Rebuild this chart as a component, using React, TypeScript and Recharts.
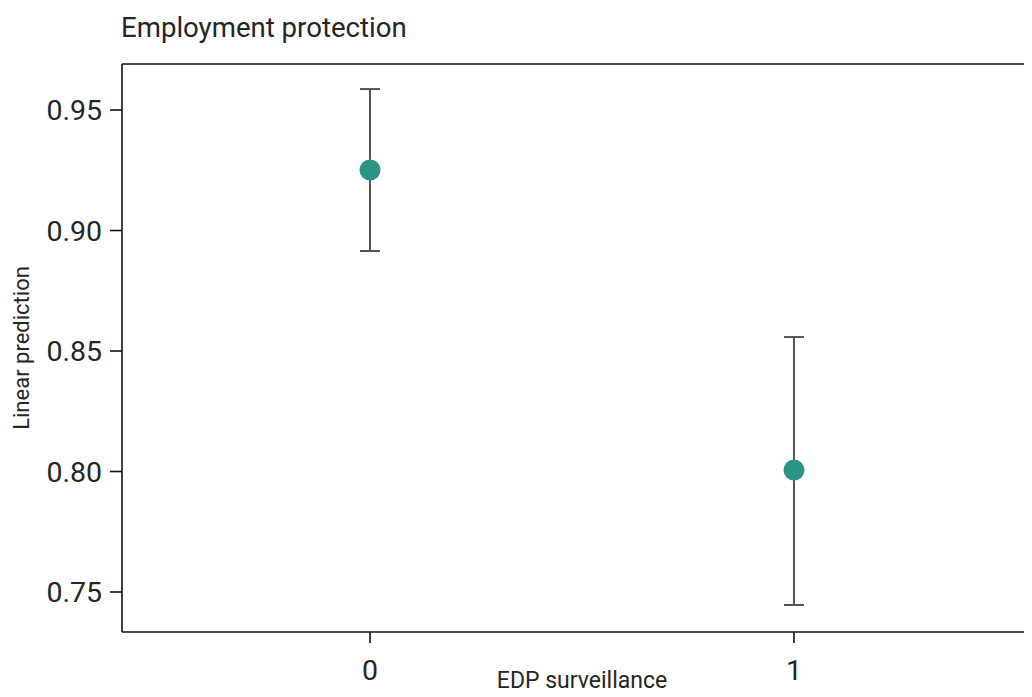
import React from "react";
import { ScatterChart, Scatter, XAxis, YAxis, ErrorBar } from "recharts";

// EDP surveillance groups and the linear predictions with their 95% CI
const groups = [0, 1];
const predictions = [0.9251, 0.8006];
const ciLower = [0.8915, 0.7446];
const ciUpper = [0.9587, 0.8558];
const yTicks = [0.75, 0.8, 0.85, 0.9, 0.95];

const data = groups.map((g, i) => ({
    group: g,
    value: predictions[i],
    ci: [predictions[i] - ciLower[i], ciUpper[i] - predictions[i]],
}));

const X_DOMAIN = [-0.585, 1.585];
const FONT = "Roboto, 'DejaVu Sans', sans-serif";
const TEXT = "#262626";
const AXIS = "#111111";

export default function App() {
    return (
        <div style={{ position: "relative", width: 1060, height: 689, overflow: "hidden", fontFamily: FONT }}>
            {/* the plot frame runs past the right edge, keep the page from scrolling */}
            <style>{"html, body { overflow: hidden; }"}</style>
            <div style={{ position: "absolute", left: 113, top: 3, fontSize: 27.6, color: TEXT, whiteSpace: "nowrap" }}>
                Employment protection
            </div>
            <ScatterChart width={1040} height={704} margin={{ top: 55, right: 6, bottom: 0, left: 0 }}>
                <XAxis
                    type="number"
                    dataKey="group"
                    domain={X_DOMAIN}
                    ticks={groups}
                    allowDataOverflow
                    tickSize={11}
                    tickMargin={17}
                    height={80}
                    stroke={AXIS}
                    strokeWidth={1.6}
                    tick={{ fill: TEXT, fontSize: 28.5, fontFamily: FONT }}
                    label={{ value: "EDP surveillance", position: "insideBottom", offset: 24, fill: TEXT, fontSize: 23, fontFamily: FONT }}
                />
                {/* top frame line */}
                <XAxis
                    xAxisId="top"
                    orientation="top"
                    type="number"
                    dataKey="group"
                    domain={X_DOMAIN}
                    allowDataOverflow
                    height={1}
                    tick={false}
                    tickLine={false}
                    stroke={AXIS}
                    strokeWidth={1.6}
                />
                <YAxis
                    type="number"
                    dataKey="value"
                    domain={[0.7334, 0.9691]}
                    ticks={yTicks}
                    allowDataOverflow
                    width={114}
                    tickSize={12}
                    tickMargin={8}
                    stroke={AXIS}
                    strokeWidth={1.6}
                    tickFormatter={(v: number) => v.toFixed(2)}
                    tick={{ fill: TEXT, fontSize: 28.5, fontFamily: FONT }}
                    label={{ value: "Linear prediction", angle: -90, position: "insideLeft", offset: 13, fill: TEXT, fontSize: 22, fontFamily: FONT, style: { textAnchor: "middle" } }}
                />
                {/* confidence intervals */}
                <Scatter data={data} xAxisId="top" isAnimationActive={false} shape={() => <g />}>
                    <ErrorBar dataKey="ci" direction="y" width={10} stroke="#555555" strokeWidth={2} isAnimationActive={false} />
                </Scatter>
                {/* point estimates */}
                <Scatter
                    data={data}
                    isAnimationActive={false}
                    shape={(p: any) => <circle cx={p.cx} cy={p.cy} r={10.5} fill="#2a9487" />}
                />
            </ScatterChart>
        </div>
    );
}
